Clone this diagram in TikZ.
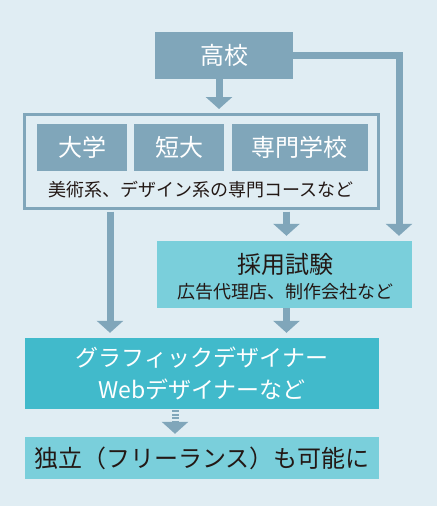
\documentclass[tikz,border=0pt]{standalone}
\usepackage{fontspec}
\setmainfont{Noto Sans CJK JP}
\usetikzlibrary{positioning,arrows.meta}

\definecolor{bgblue}{HTML}{E0EDF3}
\definecolor{grayblue}{HTML}{80A6BA}
\definecolor{lightteal}{HTML}{7ACFDB}
\definecolor{darkteal}{HTML}{41BACB}
\definecolor{textdark}{HTML}{231815}

\newcommand*{\bigfont}{\fontsize{24}{28}\selectfont}
\newcommand*{\smallfont}{\fontsize{18}{22}\selectfont}

\begin{document}
\begin{tikzpicture}
[
	x=1pt,y=-1pt,
	graybox/.style={rectangle,fill=grayblue,text=white,inner sep=0pt,minimum height=47pt,font=\bigfont},
	tealbox/.style={rectangle,fill=lightteal,text=textdark,inner sep=0pt,minimum width=354pt},
	flow/.style={draw=grayblue,line width=7pt,-{Triangle[width=26pt,length=12pt]}},
]

	% background
	\fill[bgblue] (0,0) rectangle (437,506);
	\useasboundingbox (0,0) rectangle (439,506);

	% boxes
	\node[graybox,minimum width=138pt] (koko) at (224,55.5) {高校};

	\node[draw=grayblue,line width=3pt,inner sep=0pt,minimum width=354pt,minimum height=94pt] (course) at (201.5,161.5) {};
	\node[graybox,minimum width=90pt] (daigaku) at (82,147.5) {大学};
	\node[graybox,minimum width=90pt,right=7pt of daigaku] (tandai) {短大};
	\node[graybox,minimum width=136pt,right=7pt of tandai] (senmon) {専門学校};
	\node[text=textdark,font=\smallfont] (note) at (201,190) {美術系、デザイン系の専門コースなど};

	\node[tealbox,minimum width=255pt,minimum height=67pt] (saiyo) at (284.5,274.5) {};
	\node[text=textdark,font=\bigfont] (saiyotitle) at (285,264) {採用試験};
	\node[text=textdark,font=\smallfont] (saiyonote) at (285,292) {広告代理店、制作会社など};

	\node[tealbox,fill=darkteal,text=white,minimum height=71pt,align=center,font=\fontsize{23}{32}\selectfont] (designer) at (202,373.5) {グラフィックデザイナー\\Webデザイナーなど};

	\node[tealbox,minimum height=42pt,font=\bigfont] (indep) at (202,458) {独立（フリーランス）も可能に};

	% connectors
	\coordinate (lcol) at (110,0);
	\coordinate (dcol) at (175,0);
	\coordinate (rcol) at (399,0);

	\draw[flow,shorten >=4pt] ([xshift=-5pt]koko.south) -- ([xshift=-5pt]koko.south |- course.north);
	\draw[flow,shorten >=5pt] (koko.east) -| (rcol |- saiyo.north);
	\draw[flow,shorten <=1.5pt,shorten >=5pt] ([xshift=2pt]saiyo.north |- course.south) -- ([xshift=2pt]saiyo.north);
	\draw[flow,shorten <=1.5pt,shorten >=5pt] (lcol |- course.south) -- (lcol |- designer.north);
	\draw[flow,shorten >=5pt] ([xshift=2pt]saiyo.south) -- ([xshift=2pt]saiyo.south |- designer.north);
	\draw[flow,dash pattern=on 2pt off 1.6pt,shorten <=1pt,shorten >=3pt] (dcol |- designer.south) -- (dcol |- indep.north);

\end{tikzpicture}
\end{document}
